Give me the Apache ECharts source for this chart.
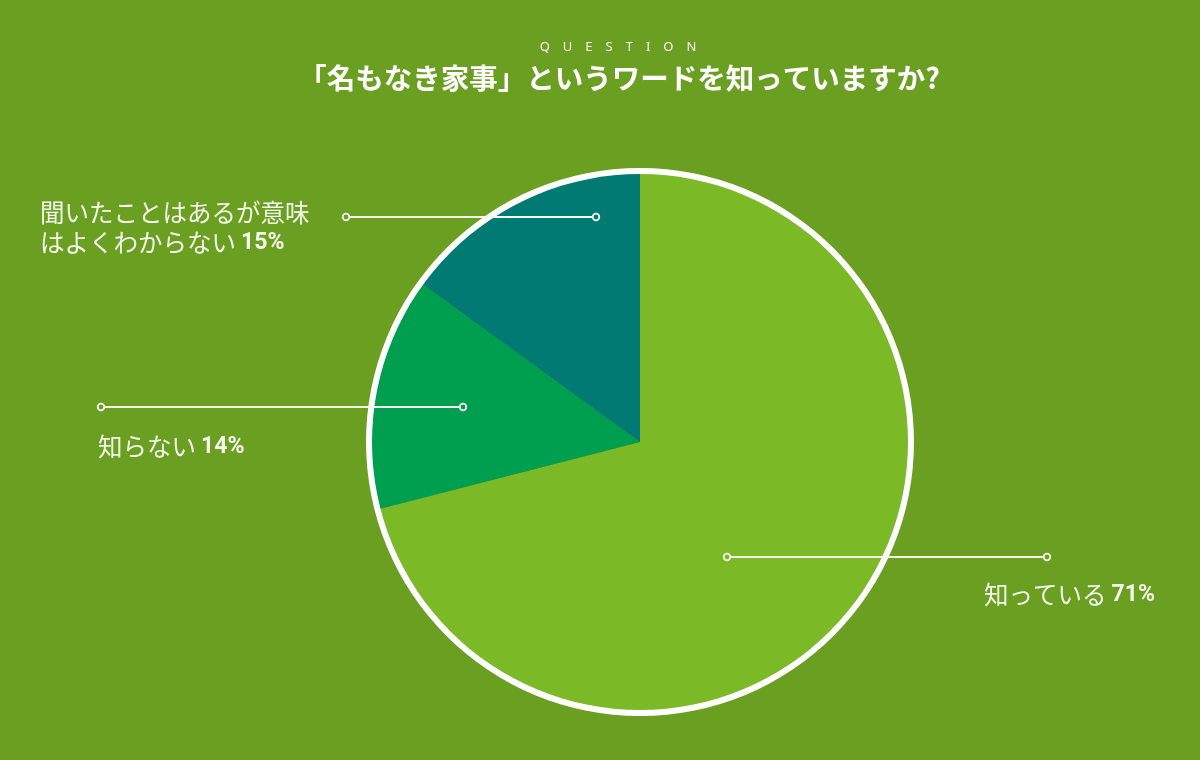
<!DOCTYPE html>
<html>
<head>
<meta charset="utf-8">
<script src="https://cdn.jsdelivr.net/npm/echarts@6/dist/echarts.min.js"></script>
<style>
  html, body { margin: 0; padding: 0; background: #6a9f22; }
  #chart { width: 1200px; height: 760px; }
</style>
</head>
<body>
<div id="chart"></div>
<script>
// ---- data ----
const categories = ['知っている', '知らない', '聞いたことはあるが意味\nはよくわからない'];
const percents = [71, 14, 15];
const sliceColors = ['#7bba26', '#009e4f', '#007a73'];
const kicker = 'QUESTION';
const titleText = '「名もなき家事」というワードを知っていますか?';

// ---- layout (relative to pie centre, px) ----
const BG = '#6a9f22';
const TEXT = '#f4f7ec';
const CENTER = [640, 442];
const R = 269;
// leader guides: inner point, outer point, label anchor, align
const guides = [
  { inner: [87, 115], outer: [407, 115], label: [515, 153], align: 'right' },
  { inner: [-177, -35], outer: [-539, -35], label: [-542, 5], align: 'left' },
  { inner: [-44, -225], outer: [-294, -225], label: [-600, -214], align: 'left' }
];

const chart = echarts.init(document.getElementById('chart'), null, { renderer: 'canvas' });

const abs = (p) => [CENTER[0] + p[0], CENTER[1] + p[1]];

const leaders = [];
guides.forEach((g, i) => {
  const a = abs(g.inner), b = abs(g.outer);
  leaders.push({ type: 'line', shape: { x1: a[0], y1: a[1], x2: b[0], y2: b[1] }, style: { stroke: TEXT, lineWidth: 2 }, z: 100, silent: true });
  leaders.push({ type: 'circle', shape: { cx: a[0], cy: a[1], r: 3.3 }, style: { fill: sliceColors[i], stroke: TEXT, lineWidth: 1.8 }, z: 101, silent: true });
  leaders.push({ type: 'circle', shape: { cx: b[0], cy: b[1], r: 3.3 }, style: { fill: BG, stroke: TEXT, lineWidth: 1.8 }, z: 101, silent: true });
});

const option = {
  backgroundColor: BG,
  animation: false,
  graphic: [
    {
      type: 'text',
      x: 618,
      y: 47,
      style: {
        text: kicker.split('').join('\u2003'),
        fill: TEXT,
        font: '400 13px "Noto Sans", sans-serif',
        align: 'center',
        verticalAlign: 'middle'
      },
      z: 100
    },
    {
      type: 'text',
      x: 619,
      y: 78,
      style: {
        text: titleText,
        fill: '#ffffff',
        font: 'bold 28.5px "Noto Sans CJK JP", sans-serif',
        align: 'center',
        verticalAlign: 'middle'
      },
      z: 100
    }
  ].concat(leaders),
  series: [
    {
      type: 'pie',
      center: CENTER,
      radius: [0, R],
      startAngle: 90,
      clockwise: true,
      avoidLabelOverlap: false,
      silent: true,
      itemStyle: { borderWidth: 0 },
      data: categories.map((c, i) => ({ name: c, value: percents[i], itemStyle: { color: sliceColors[i] } })),
      label: {
        show: true,
        formatter: (p) => '{n|' + p.name + '}{p|' + p.value + '%}',
        color: TEXT,
        rich: {
          n: { fontSize: 24.5, color: TEXT, fontFamily: '"Noto Sans CJK JP", sans-serif', fontWeight: 400, lineHeight: 30 },
          p: { fontSize: 23, color: TEXT, fontWeight: 'bold', fontFamily: 'Roboto, "Noto Sans", sans-serif', lineHeight: 30, padding: [0, 0, 0, 5] }
        }
      },
      labelLine: { show: false },
      labelLayout: function (params) {
        const g = guides[params.dataIndex];
        const l = abs(g.label);
        return {
          x: l[0],
          y: l[1],
          align: g.align,
          verticalAlign: 'middle'
        };
      },
      z: 2
    },
    {
      type: 'pie',
      center: CENTER,
      radius: [R - 1, R + 5],
      silent: true,
      label: { show: false },
      labelLine: { show: false },
      data: [{ value: 1, name: 'ring', itemStyle: { color: '#ffffff' } }],
      z: 3
    }
  ]
};

chart.setOption(option);
</script>
</body>
</html>
